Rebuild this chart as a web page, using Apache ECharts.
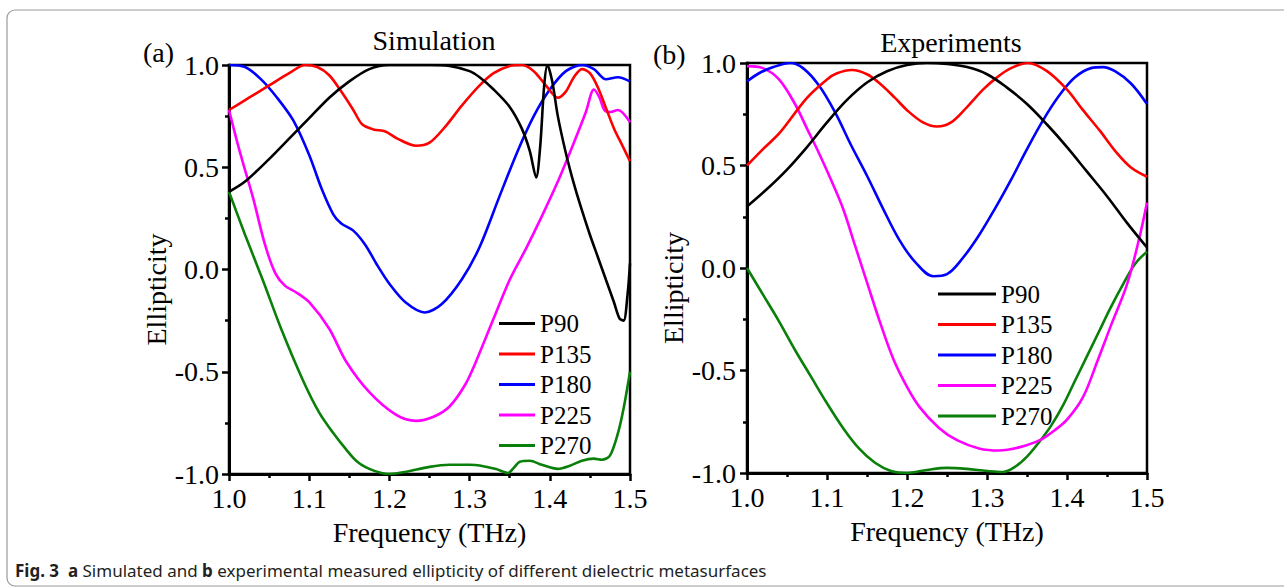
<!DOCTYPE html>
<html>
<head>
<meta charset="utf-8">
<script src="https://cdn.jsdelivr.net/npm/echarts@6/dist/echarts.min.js"></script>
<style>
html,body{margin:0;padding:0;background:#fff;}
#chart{width:1284px;height:588px;}
</style>
</head>
<body>
<div id="chart"></div>
<script>
// ---------- DATA ----------
const seriesNames = ['P90', 'P135', 'P180', 'P225', 'P270'];
const seriesColors = ['#000000', '#ff0000', '#0000ff', '#ff00ff', '#0a800a'];
const xTicks = ['1.0', '1.1', '1.2', '1.3', '1.4', '1.5'];
const yTicks = ['-1.0', '-0.5', '0.0', '0.5', '1.0'];

// (a) Simulation
const simFreqP90 = [1.00,1.02,1.05,1.075,1.10,1.125,1.15,1.175,1.20,1.25,1.275,1.30,1.3125,1.33,1.35,1.365,1.375,1.383,1.388,1.393,1.397,1.403,1.41,1.42,1.43,1.44,1.45,1.46,1.47,1.48,1.487,1.492,1.497,1.50];
const simP90     = [0.38,0.43,0.54,0.64,0.74,0.84,0.92,0.98,1.0,1.0,0.995,0.97,0.94,0.88,0.795,0.69,0.58,0.45,0.60,0.90,1.0,0.92,0.75,0.57,0.42,0.29,0.17,0.06,-0.05,-0.16,-0.24,-0.25,-0.12,0.03];

const simFreqP135 = [1.00,1.025,1.05,1.075,1.095,1.11,1.125,1.14,1.155,1.166,1.18,1.195,1.21,1.233,1.25,1.27,1.29,1.3125,1.33,1.35,1.365,1.38,1.395,1.41,1.42,1.43,1.44,1.45,1.46,1.47,1.48,1.49,1.50];
const simP135     = [0.78,0.84,0.90,0.96,1.0,0.99,0.95,0.87,0.78,0.71,0.685,0.675,0.64,0.605,0.62,0.70,0.80,0.90,0.96,0.995,1.0,0.97,0.90,0.84,0.87,0.94,0.98,0.96,0.89,0.79,0.69,0.61,0.53];

const simFreqP180 = [1.00,1.02,1.04,1.06,1.08,1.10,1.115,1.13,1.14,1.155,1.17,1.185,1.20,1.22,1.244,1.265,1.29,1.3125,1.3375,1.36,1.38,1.40,1.42,1.44,1.455,1.47,1.485,1.50];
const simP180     = [1.0,0.99,0.93,0.84,0.73,0.56,0.40,0.27,0.225,0.19,0.12,0.02,-0.07,-0.16,-0.21,-0.17,-0.05,0.11,0.36,0.58,0.75,0.88,0.97,1.0,0.98,0.93,0.94,0.92];

const simFreqP225 = [1.00,1.0125,1.03,1.045,1.058,1.07,1.083,1.10,1.125,1.146,1.175,1.208,1.233,1.255,1.275,1.295,1.308,1.333,1.35,1.37,1.39,1.41,1.43,1.445,1.455,1.462,1.468,1.475,1.485,1.50];
const simP225     = [0.78,0.59,0.35,0.12,-0.02,-0.08,-0.11,-0.16,-0.29,-0.45,-0.60,-0.71,-0.74,-0.72,-0.67,-0.56,-0.45,-0.21,-0.05,0.10,0.26,0.43,0.62,0.77,0.88,0.84,0.78,0.77,0.78,0.72];

const simFreqP270 = [1.00,1.02,1.042,1.065,1.092,1.1125,1.13,1.146,1.16,1.175,1.19,1.20,1.22,1.25,1.275,1.30,1.3125,1.333,1.348,1.355,1.3625,1.375,1.39,1.41,1.425,1.44,1.455,1.465,1.475,1.485,1.492,1.50];
const simP270     = [0.38,0.17,-0.05,-0.29,-0.54,-0.70,-0.80,-0.88,-0.94,-0.975,-0.995,-1.0,-0.99,-0.965,-0.955,-0.955,-0.958,-0.976,-0.995,-0.97,-0.94,-0.935,-0.955,-0.975,-0.96,-0.935,-0.925,-0.93,-0.91,-0.80,-0.68,-0.50];

// (b) Experiments
const expFreqP90 = [1.00,1.025,1.05,1.075,1.10,1.125,1.15,1.175,1.20,1.225,1.25,1.275,1.30,1.325,1.35,1.375,1.40,1.425,1.45,1.475,1.50];
const expP90     = [0.30,0.385,0.48,0.59,0.71,0.82,0.905,0.96,0.99,1.0,0.995,0.98,0.945,0.88,0.80,0.70,0.59,0.47,0.35,0.22,0.10];

const expFreqP135 = [1.00,1.02,1.041,1.075,1.10,1.1125,1.131,1.15,1.166,1.185,1.20,1.22,1.2375,1.255,1.275,1.295,1.3125,1.33,1.351,1.375,1.40,1.42,1.441,1.4625,1.48,1.50];
const expP135     = [0.50,0.58,0.66,0.83,0.92,0.95,0.966,0.945,0.90,0.83,0.77,0.71,0.69,0.71,0.785,0.87,0.93,0.975,1.0,0.96,0.87,0.77,0.67,0.56,0.49,0.445];

const expFreqP180 = [1.00,1.015,1.033,1.054,1.07,1.09,1.11,1.13,1.15,1.17,1.19,1.21,1.233,1.25,1.27,1.29,1.31,1.33,1.35,1.37,1.39,1.41,1.43,1.445,1.46,1.48,1.50];
const expP180     = [0.91,0.95,0.98,1.0,0.975,0.89,0.76,0.60,0.45,0.29,0.14,0.03,-0.04,-0.03,0.05,0.16,0.29,0.43,0.58,0.72,0.84,0.93,0.975,0.98,0.96,0.90,0.80];

const expFreqP225 = [1.00,1.02,1.04,1.06,1.075,1.09,1.105,1.12,1.135,1.15,1.165,1.1825,1.20,1.216,1.24,1.2625,1.29,1.315,1.34,1.366,1.385,1.40,1.42,1.4375,1.455,1.475,1.49,1.50];
const expP225     = [0.985,0.975,0.92,0.80,0.68,0.56,0.43,0.29,0.11,-0.07,-0.25,-0.44,-0.58,-0.68,-0.78,-0.84,-0.88,-0.89,-0.875,-0.84,-0.79,-0.74,-0.63,-0.46,-0.28,-0.08,0.14,0.32];

const expFreqP270 = [1.00,1.02,1.04,1.06,1.08,1.10,1.12,1.14,1.16,1.18,1.20,1.225,1.25,1.275,1.30,1.32,1.335,1.35,1.365,1.38,1.395,1.41,1.425,1.44,1.455,1.47,1.485,1.50];
const expP270     = [0.0,-0.13,-0.26,-0.40,-0.53,-0.66,-0.78,-0.88,-0.95,-0.99,-1.0,-0.985,-0.975,-0.98,-0.99,-0.995,-0.97,-0.92,-0.85,-0.77,-0.67,-0.55,-0.43,-0.31,-0.19,-0.08,0.02,0.08];

const simSet = [[simFreqP90, simP90],[simFreqP135, simP135],[simFreqP180, simP180],[simFreqP225, simP225],[simFreqP270, simP270]];
const expSet = [[expFreqP90, expP90],[expFreqP135, expP135],[expFreqP180, expP180],[expFreqP225, expP225],[expFreqP270, expP270]];

// ---------- CHART ----------
const serif = 'Liberation Serif';
const chart = echarts.init(document.getElementById('chart'), null, {renderer: 'svg'});

function xAxisCfg(gi) {
  return {
    type: 'value', gridIndex: gi, min: 1.0, max: 1.5, interval: 0.1,
    name: 'Frequency (THz)', nameLocation: 'middle', nameGap: 44,
    nameTextStyle: {fontFamily: serif, fontSize: 28, color: '#000'},
    axisLine: {show: true, onZero: false, lineStyle: {color: '#000', width: 3}},
    axisTick: {show: true, length: 7, lineStyle: {color: '#000', width: 2.5}},
    minorTick: {show: true, splitNumber: 2, length: 4, lineStyle: {color: '#000', width: 2.5}},
    splitLine: {show: false},
    axisLabel: {
      margin: 10, fontFamily: serif, fontSize: 28, color: '#000',
      formatter: v => xTicks[Math.round((v - 1.0) * 10)]
    }
  };
}
function yAxisCfg(gi, margin) {
  return {
    type: 'value', gridIndex: gi, min: -1.0, max: 1.0, interval: 0.5,
    name: 'Ellipticity', nameLocation: 'middle', nameGap: 54,
    nameTextStyle: {fontFamily: serif, fontSize: 28, color: '#000', padding: [0, 40, 0, 0]},
    axisLine: {show: true, onZero: false, lineStyle: {color: '#000', width: 3}},
    axisTick: {show: true, length: 7, lineStyle: {color: '#000', width: 2.5}},
    minorTick: {show: true, splitNumber: 2, length: 4, lineStyle: {color: '#000', width: 2.5}},
    splitLine: {show: false},
    axisLabel: {
      margin: margin, fontFamily: serif, fontSize: 28, color: '#000',
      formatter: v => yTicks[Math.round((v + 1.0) * 2)]
    }
  };
}

const series = [];
simSet.forEach((s, i) => {
  series.push({
    name: seriesNames[i], type: 'line', xAxisIndex: 0, yAxisIndex: 0,
    data: s[0].map((f, k) => [f, s[1][k]]), smooth: 0.3, symbol: 'none',
    lineStyle: {color: seriesColors[i], width: 2.6}, itemStyle: {color: seriesColors[i]}, z: 5 - i
  });
});
expSet.forEach((s, i) => {
  series.push({
    name: seriesNames[i], type: 'line', xAxisIndex: 1, yAxisIndex: 1,
    data: s[0].map((f, k) => [f, s[1][k]]), smooth: 0.35, symbol: 'none',
    lineStyle: {color: seriesColors[i], width: 2.6}, itemStyle: {color: seriesColors[i]}, z: 5 - i
  });
});

const legendCommon = {
  orient: 'vertical', icon: 'rect', itemHeight: 3, itemGap: 5.5,
  selectedMode: false,
  textStyle: {fontFamily: serif, fontSize: 25, color: '#000', lineHeight: 25},
  data: seriesNames
};

chart.setOption({
  backgroundColor: '#fff',
  animation: false,
  grid: [
    {left: 229, right: 1284 - 630, top: 65, bottom: 588 - 474, show: true, borderColor: '#000', borderWidth: 2.5, backgroundColor: 'transparent'},
    {left: 747, right: 1284 - 1147, top: 63, bottom: 588 - 473, show: true, borderColor: '#000', borderWidth: 2.5, backgroundColor: 'transparent'}
  ],
  xAxis: [xAxisCfg(0), xAxisCfg(1)],
  yAxis: [yAxisCfg(0, 10), yAxisCfg(1, 11)],
  legend: [
    Object.assign({}, legendCommon, {left: 494, top: 306, itemWidth: 36}),
    Object.assign({}, legendCommon, {left: 933, top: 276.5, itemWidth: 58})
  ],
  series: series,
  graphic: [
    {type: 'rect', shape: {x: 7, y: 10, width: 1300, height: 576, r: 8}, style: {fill: 'none', stroke: '#9a9a9a', lineWidth: 1.2}, silent: true},
    {type: 'text', left: 143, top: 38, style: {text: '(a)', font: '28px "Liberation Serif"', fill: '#000'}},
    {type: 'text', x: 434, y: 40, style: {text: 'Simulation', font: '28px "Liberation Serif"', fill: '#000', textAlign: 'center', textVerticalAlign: 'middle'}},
    {type: 'text', left: 653, top: 40, style: {text: '(b)', font: '28px "Liberation Serif"', fill: '#000'}},
    {type: 'text', x: 951, y: 42, style: {text: 'Experiments', font: '28px "Liberation Serif"', fill: '#000', textAlign: 'center', textVerticalAlign: 'middle'}},
    {type: 'text', x: 15, y: 570, style: {
      text: '{b|Fig. 3}  {b|a} Simulated and {b|b} experimental measured ellipticity of different dielectric metasurfaces',
      font: '17px "Noto Sans"', fill: '#231f20', textVerticalAlign: 'middle',
      rich: {b: {fontWeight: 'bold', fontFamily: 'Noto Sans', fontSize: 17, fill: '#231f20'}}
    }}
  ]
});
</script>
</body>
</html>
